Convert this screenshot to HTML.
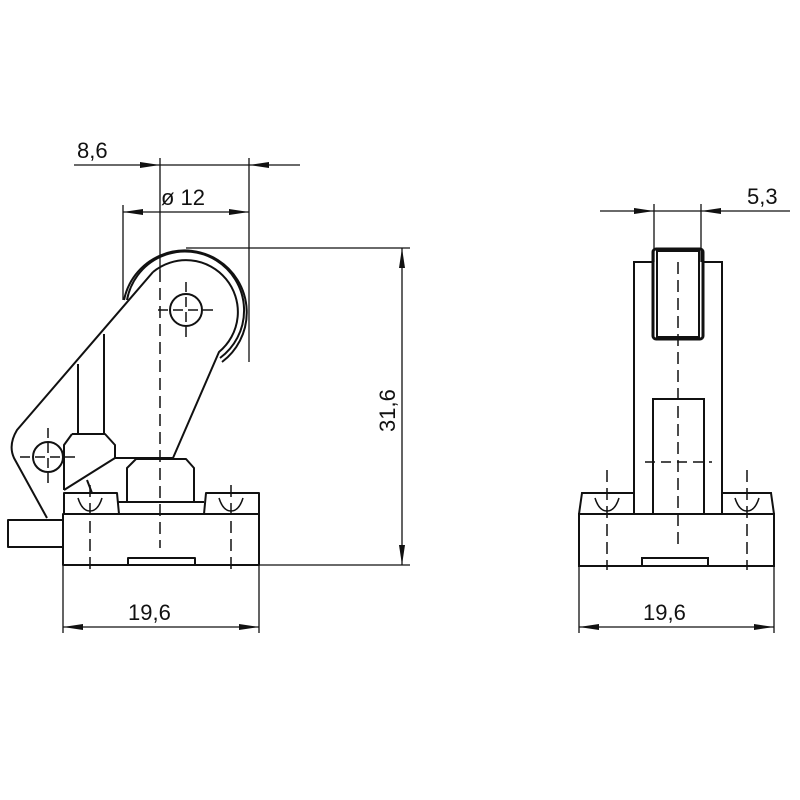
<!DOCTYPE html>
<html><head><style>body{margin:0;background:#fff}svg{display:block}</style></head><body>
<svg width="800" height="800" viewBox="0 0 800 800" xmlns="http://www.w3.org/2000/svg">
<defs>
<marker id="a" viewBox="0 0 20 6" refX="20" refY="3" markerWidth="20" markerHeight="6" markerUnits="userSpaceOnUse" orient="auto"><path d="M0,0L20,3L0,6z" fill="#111"/></marker>
</defs>
<g fill="none" stroke="#111" stroke-width="2" stroke-linejoin="round">
<!-- LEFT VIEW -->
<path d="M124,300 A62,62 0 1 1 222,362"/>
<path d="M127,300 A59,59 0 1 1 220,358"/>
<!-- arm -->
<path d="M153,272 A51,51 0 1 1 219,352 L173,458 L115,458 L64,490"/>
<path d="M153,272 L17,430 Q8,445 14,458 L47,518"/>
<path d="M87,480 L92,493"/>
<path d="M78,364 V434 M104,334 V434 M72,434 H105 L115,445 V458 M72,434 L64,445 V490"/>
<path d="M127,502 V468 L136,459 H186 L194,468 V502"/>
<rect x="63" y="514" width="196" height="51"/>
<path d="M64,514 V493 H117 L119,514 M117,502 H204 M204,514 L206,493 H259 V514"/>
<rect x="128" y="558" width="67" height="7"/>
<rect x="8" y="520" width="55" height="27"/>
<path d="M78,498 Q82,511 90,511 Q98,511 102,498 M219,498 Q223,511 231,511 Q239,511 243,498" stroke-width="1.5"/>
<circle cx="186" cy="310" r="16"/>
<circle cx="48" cy="457" r="15"/>
</g>
<g stroke="#111" stroke-width="1.5" fill="none">
<path d="M186,282 V338 M158,310 H214 M48,428 V486 M20,457 H78" stroke-dasharray="10,5"/>
<path d="M160,270 V548 M90,485 V570 M231,485 V570" stroke-dasharray="12,6"/>
<path d="M678,262 V548 M607,470 V570 M747,470 V570" stroke-dasharray="12,6"/>
<path d="M645,462 H712" stroke-dasharray="10,6"/>
</g>
<g fill="none" stroke="#111" stroke-width="2">
<rect x="579" y="514" width="195" height="52"/>
<path d="M579,514 L582,493 H634 V514 M722,514 V493 H771 L774,514"/>
<path d="M634,493 V262 H653 M703,262 H722 V493"/>
<rect x="653" y="249" width="50" height="90" rx="3" stroke-width="3"/>
<rect x="657" y="251" width="42" height="86"/>
<rect x="653" y="399" width="51" height="115"/>
<rect x="642" y="558" width="66" height="8"/>
<path d="M595,498 Q599,511 607,511 Q615,511 619,498 M735,498 Q739,511 747,511 Q755,511 759,498" stroke-width="1.5"/>
</g>
<g stroke="#111" stroke-width="1.3" fill="none">
<path d="M160,158 V270 M249,158 V362 M123,205 V300"/>
<path d="M74,165 H160" marker-end="url(#a)"/><path d="M300,165 H249" marker-end="url(#a)"/>
<path d="M160,165 H249"/>
<path d="M160,212 H123" marker-end="url(#a)"/><path d="M160,212 H249" marker-end="url(#a)"/>
<path d="M186,248 H410 M259,565 H410"/>
<path d="M402,400 V248" marker-end="url(#a)"/><path d="M402,400 V565" marker-end="url(#a)"/>
<path d="M63,565 V633 M259,565 V633"/>
<path d="M160,627 H63" marker-end="url(#a)"/><path d="M160,627 H259" marker-end="url(#a)"/>
<path d="M654,204 V262 M701,204 V262"/>
<path d="M600,211 H654" marker-end="url(#a)"/><path d="M790,211 H701" marker-end="url(#a)"/><path d="M654,211 H701"/>
<path d="M579,566 V633 M774,566 V633"/>
<path d="M676,627 H579" marker-end="url(#a)"/><path d="M676,627 H774" marker-end="url(#a)"/>
</g>
<g font-family="Liberation Sans, sans-serif" font-size="22" fill="#111">
<text x="77" y="158">8,6</text>
<text x="161" y="205">ø 12</text>
<text x="747" y="204">5,3</text>
<text x="128" y="620">19,6</text>
<text x="643" y="620">19,6</text>
<text transform="translate(395,432) rotate(-90)">31,6</text>
</g>
</svg>
</body></html>
